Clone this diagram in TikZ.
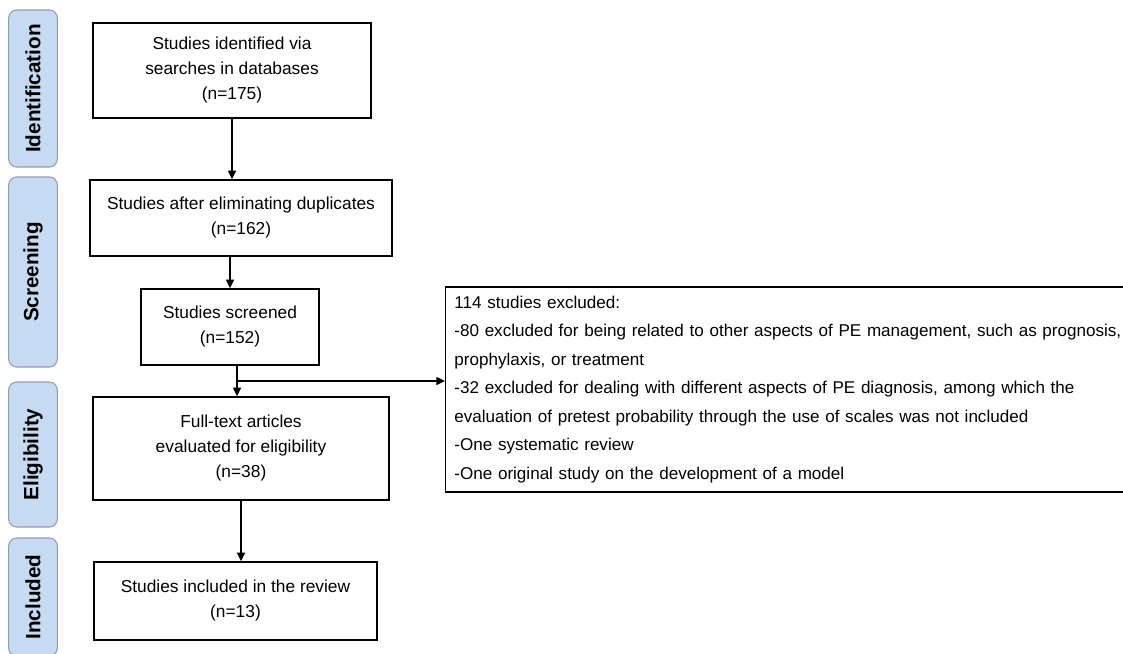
\documentclass[tikz,border=0pt]{standalone}
\usepackage{fontspec}
\setmainfont{Liberation Sans}
\usetikzlibrary{arrows.meta}
\definecolor{sidefill}{HTML}{C6DBF1}
\definecolor{sidedraw}{HTML}{8F9DAF}
\begin{document}
\begin{tikzpicture}[x=0.75pt,y=-0.75pt,
  stage/.style={draw=sidedraw, fill=sidefill, rounded corners=6pt, line width=0.8pt,
    minimum height=36.5pt, rotate=90, inner sep=0pt,
    font=\fontsize{15.5}{18}\selectfont\bfseries},
  box/.style={draw, line width=1.1pt, align=center, inner sep=0pt,
    font=\fontsize{13}{18.75}\selectfont},
  exbox/.style={draw, line width=1.1pt, align=left, inner xsep=6.5pt, inner ysep=0pt,
    text width=527pt, minimum height=153.75pt,
    font=\fontsize{12.8}{21.4}\selectfont},
  arr/.style={line width=1pt, -{Triangle[length=6.5pt,width=6pt]}}
]
\useasboundingbox (0,0) rectangle (1123,653);

% stage labels
\node[stage, minimum width=117.75pt] (sid) at (33,88.5) {Identification};
\node[stage, minimum width=142.5pt] (ssc) at (33,272) {Screening};
\node[stage, minimum width=108.75pt] (sel) at (33,454.5) {Eligibility};
\node[stage, minimum width=88.5pt] (sin) at (33,597) {Included};

% main boxes
\node[box, minimum width=208.5pt, minimum height=71.25pt] (b1) at (232,70.5)
  {Studies identified via\\searches in databases\\(n=175)};
\node[box, minimum width=226.5pt, minimum height=57pt] (b2) at (241,218)
  {Studies after eliminating duplicates\\(n=162)};
\node[box, minimum width=133.5pt, minimum height=57pt] (b3) at (230,327)
  {Studies screened\\(n=152)};
\node[box, minimum width=222pt, minimum height=77.25pt] (b4) at (241,448.5)
  {Full-text articles\\evaluated for eligibility\\(n=38)};
\node[box, minimum width=212.25pt, minimum height=58.5pt] (b5) at (235.5,601)
  {Studies included in the review\\(n=13)};

\node[exbox, anchor=west] (ex) at (445,389.5)
  {114 studies excluded:\\
   -80 excluded for being related to other aspects of PE management, such as prognosis,\\
   prophylaxis, or treatment\\
   -32 excluded for dealing with different aspects of PE diagnosis, among which the\\
   evaluation of pretest probability through the use of scales was not included\\
   -One systematic review\\
   -One original study on the development of a model};

% connectors
\coordinate (br) at (237,381);
\draw[arr] (b1.south) -- (b1.south |- b2.north);
\draw[arr] (b3.north |- b2.south) -- (b3.north);
\draw[arr] (b3.south -| br) -- (br |- b4.north);
\draw[arr] (br) -- (br -| ex.west);
\draw[arr] (b4.south) -- (b4.south |- b5.north);
\end{tikzpicture}
\end{document}
